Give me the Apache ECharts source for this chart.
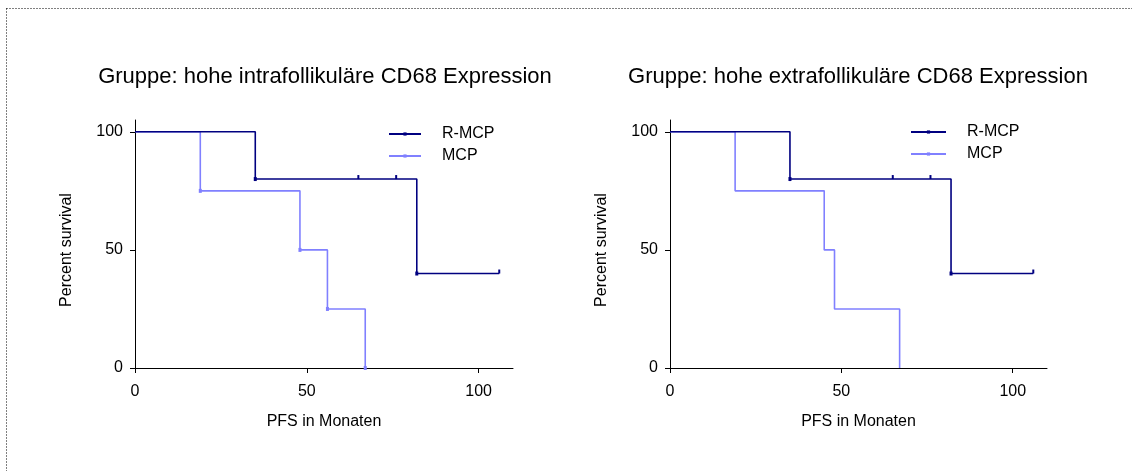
<!DOCTYPE html>
<html>
<head>
<meta charset="utf-8">
<script src="https://cdn.jsdelivr.net/npm/echarts@6/dist/echarts.min.js"></script>
<style>
html,body{margin:0;padding:0;background:#fff;}
#c{width:1132px;height:471px;}
</style>
</head>
<body>
<div id="c"></div>
<script>
// ---- data ----
const titles = ['Gruppe: hohe intrafollikuläre CD68 Expression', 'Gruppe: hohe extrafollikuläre CD68 Expression'];
const seriesNames = ['R-MCP', 'MCP'];
const xTicks = [0, 50, 100];
const yTicks = [0, 50, 100];
const xName = 'PFS in Monaten';
const yName = 'Percent survival';

// left panel
const leftRmcpTime = [0, 35, 65, 76, 82, 106];
const leftRmcpSurv = [100, 80, 80, 80, 40, 40];
const leftRmcpCens = [0, 0, 1, 1, 0, 1];
const leftMcpTime = [0, 19, 48, 56, 67];
const leftMcpSurv = [100, 75, 50, 25, 0];
const leftMcpCens = [0, 0, 0, 0, 0];

// right panel
const rightRmcpTime = [0, 35, 65, 76, 82, 106];
const rightRmcpSurv = [100, 80, 80, 80, 40, 40];
const rightRmcpCens = [0, 0, 1, 1, 0, 1];
const rightMcpTime = [0, 19, 45, 48, 67];
const rightMcpSurv = [100, 75, 50, 25, 0];
const rightMcpCens = [0, 0, 0, 0, 0];

// ---- styling / build ----
const FONT = '"Liberation Sans", Arial, sans-serif';
const DARK = '#000080';
const LIGHT = '#8080ff';

function buildData(t, s, c, marks) {
  return t.map((x, i) => {
    const o = { value: [x, s[i]] };
    if (i === 0 || !marks) {
      o.symbolSize = 0;
    } else if (c[i]) {
      o.symbolSize = [2, 4];
      o.symbolOffset = [0, -2];
    } else {
      o.symbolSize = [3, 4];
    }
    return o;
  });
}

const grids = [
  { left: 135, top: 120, width: 378, height: 248 },
  { left: 670, top: 120, width: 377, height: 248 }
];

function xAxis(gi) {
  return {
    type: 'value', gridIndex: gi, min: 0, max: 110,
    name: xName, nameLocation: 'middle', nameGap: 46,
    nameTextStyle: { fontFamily: FONT, fontSize: 16, color: '#000' },
    axisLine: { show: true, lineStyle: { color: '#000', width: 1 } },
    axisTick: { show: true, length: 5, customValues: xTicks, lineStyle: { color: '#000' } },
    axisLabel: { customValues: xTicks, margin: 16, fontFamily: FONT, fontSize: 16, color: '#000' },
    splitLine: { show: false }
  };
}
function yAxis(gi) {
  return {
    type: 'value', gridIndex: gi, min: 0, max: 105,
    name: yName, nameLocation: 'middle', nameGap: 60, nameRotate: 90,
    nameTextStyle: { fontFamily: FONT, fontSize: 16, color: '#000', padding: [0, 12, 0, 0] },
    axisLine: { show: true, lineStyle: { color: '#000', width: 1 } },
    axisTick: { show: true, length: 5, customValues: yTicks, lineStyle: { color: '#000' } },
    axisLabel: { customValues: yTicks, margin: 12, fontFamily: FONT, fontSize: 16, color: '#000' },
    splitLine: { show: false }
  };
}

function lineSeries(name, color, gi, data) {
  return {
    name: name, type: 'line', step: 'end', xAxisIndex: gi, yAxisIndex: gi,
    data: data, symbol: 'rect', showSymbol: true, animation: false,
    lineStyle: { color: color, width: 1.6 },
    itemStyle: { color: color },
    emphasis: { disabled: true }
  };
}

const series = [
  lineSeries(seriesNames[0], DARK, 0, buildData(leftRmcpTime, leftRmcpSurv, leftRmcpCens, true)),
  lineSeries(seriesNames[1], LIGHT, 0, buildData(leftMcpTime, leftMcpSurv, leftMcpCens, true)),
  lineSeries(seriesNames[0], DARK, 1, buildData(rightRmcpTime, rightRmcpSurv, rightRmcpCens, true)),
  lineSeries(seriesNames[1], LIGHT, 1, buildData(rightMcpTime, rightMcpSurv, rightMcpCens, false))
];
series[0].z = 3; series[2].z = 3; series[1].z = 2; series[3].z = 2;

function legend(left, top, w) {
  return {
    left: left, top: top, orient: 'vertical', itemWidth: w, itemHeight: 4, itemGap: 6,
    data: seriesNames, selectedMode: false, padding: 0,
    textStyle: { fontFamily: FONT, fontSize: 16, color: '#000', padding: [0, 0, 0, 16] }
  };
}

const chart = echarts.init(document.getElementById('c'), null, { renderer: 'canvas' });
chart.setOption({
  backgroundColor: '#fff',
  animation: false,
  title: [
    { text: titles[0], left: 320, top: 61, textAlign: 'center', textStyle: { fontFamily: FONT, fontSize: 22, fontWeight: 'normal', color: '#000' } },
    { text: titles[1], left: 853, top: 61, textAlign: 'center', textStyle: { fontFamily: FONT, fontSize: 22, fontWeight: 'normal', color: '#000' } }
  ],
  legend: [legend(388, 126, 32), legend(910, 124, 35)],
  grid: grids,
  xAxis: [xAxis(0), xAxis(1)],
  yAxis: [yAxis(0), yAxis(1)],
  series: series,
  graphic: [
    { type: 'line', shape: { x1: 6.5, y1: 8.5, x2: 1132, y2: 8.5 }, style: { stroke: '#000', lineWidth: 1, lineDash: [1, 2] }, silent: true },
    { type: 'line', shape: { x1: 6.5, y1: 8.5, x2: 6.5, y2: 471 }, style: { stroke: '#000', lineWidth: 1, lineDash: [1, 2] }, silent: true }
  ]
});
</script>
</body>
</html>
